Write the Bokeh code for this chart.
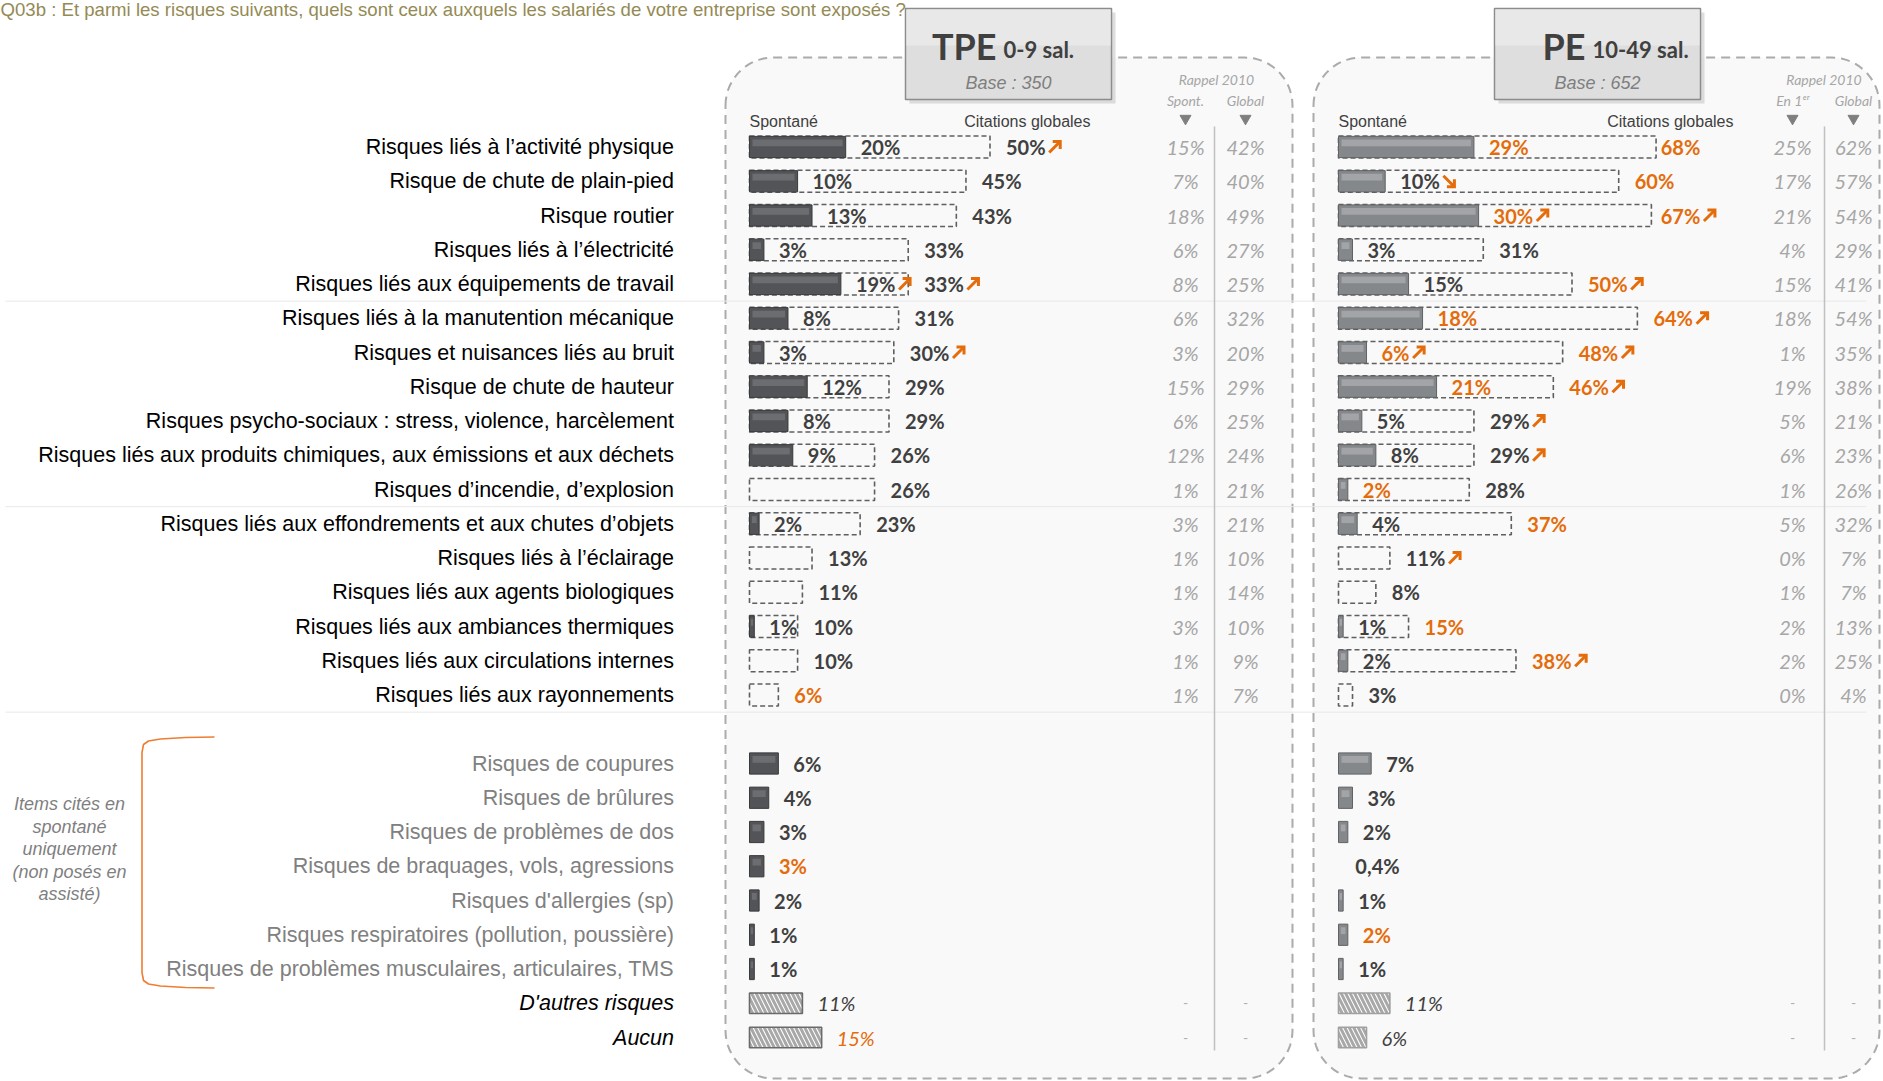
import numpy as np
from bokeh.plotting import figure
from bokeh.models import Range1d, ColumnDataSource
from bokeh.core.properties import value, field
from bokeh.embed import file_html
from bokeh.resources import INLINE

# ---------------- DATA ----------------
TITLE = "Q03b : Et parmi les risques suivants, quels sont ceux auxquels les salariés de votre entreprise sont exposés ?"

main_labels = [
    "Risques liés à l’activité physique",
    "Risque de chute de plain-pied",
    "Risque routier",
    "Risques liés à l’électricité",
    "Risques liés aux équipements de travail",
    "Risques liés à la manutention mécanique",
    "Risques et nuisances liés au bruit",
    "Risque de chute de hauteur",
    "Risques psycho-sociaux : stress, violence, harcèlement",
    "Risques liés aux produits chimiques, aux émissions et aux déchets",
    "Risques d’incendie, d’explosion",
    "Risques liés aux effondrements et aux chutes d’objets",
    "Risques liés à l’éclairage",
    "Risques liés aux agents biologiques",
    "Risques liés aux ambiances thermiques",
    "Risques liés aux circulations internes",
    "Risques liés aux rayonnements",
]
spont_only_labels = [
    "Risques de coupures",
    "Risques de brûlures",
    "Risques de problèmes de dos",
    "Risques de braquages, vols, agressions",
    "Risques d'allergies (sp)",
    "Risques respiratoires (pollution, poussière)",
    "Risques de problèmes musculaires, articulaires, TMS",
]
other_labels = ["D'autres risques", "Aucun"]
side_note = ["Items cités en", "spontané", "uniquement", "(non posés en", "assisté)"]

# TPE 0-9 sal.
tpe_spont = [20, 10, 13, 3, 19, 8, 3, 12, 8, 9, 0, 2, 0, 0, 1, 0, 0]
tpe_global = [50, 45, 43, 33, 33, 31, 30, 29, 29, 26, 26, 23, 13, 11, 10, 10, 6]
tpe_rap_spont = [15, 7, 18, 6, 8, 6, 3, 15, 6, 12, 1, 3, 1, 1, 3, 1, 1]
tpe_rap_global = [42, 40, 49, 27, 25, 32, 20, 29, 25, 24, 21, 21, 10, 14, 10, 9, 7]
tpe_spont_only = [6, 4, 3, 3, 2, 1, 1]
tpe_other = [11, 15]
# significance codes: H = orange text, U = up arrow, D = down arrow
tpe_spont_sig = ["", "", "", "", "U", "", "", "", "", "", "", "", "", "", "", "", ""]
tpe_global_sig = ["U", "", "", "", "U", "", "U", "", "", "", "", "", "", "", "", "", "H"]
tpe_spont_only_sig = ["", "", "", "H", "", "", ""]
tpe_other_sig = ["", "H"]

# PE 10-49 sal.
pe_spont = [29, 10, 30, 3, 15, 18, 6, 21, 5, 8, 2, 4, 0, 0, 1, 2, 0]
pe_global = [68, 60, 67, 31, 50, 64, 48, 46, 29, 29, 28, 37, 11, 8, 15, 38, 3]
pe_rap_first = [25, 17, 21, 4, 15, 18, 1, 19, 5, 6, 1, 5, 0, 1, 2, 2, 0]
pe_rap_global = [62, 57, 54, 29, 41, 54, 35, 38, 21, 23, 26, 32, 7, 7, 13, 25, 4]
pe_spont_only = [7, 3, 2, 0.4, 1, 2, 1]
pe_other = [11, 6]
pe_spont_sig = ["H", "D", "HU", "", "", "H", "HU", "H", "", "", "H", "", "", "", "", "", ""]
pe_global_sig = ["H", "H", "HU", "", "HU", "HU", "HU", "HU", "U", "U", "", "H", "U", "", "H", "HU", ""]
pe_spont_only_sig = ["", "", "", "", "", "H", ""]
pe_other_sig = ["", ""]

# ---------------- LAYOUT ----------------
W_REF, H_REF = 1883, 1081
ROW0, ROWH = 146.5, 34.25
ORANGE = "#E46C0A"
DARK = "#404040"
LAB_PX = 20

main_rows = list(range(17))
so_rows = list(range(18, 25))
oth_rows = [25, 26]

p = figure(width=W_REF, height=H_REF, x_range=Range1d(0, W_REF), y_range=Range1d(H_REF, 0),
           output_backend="svg", toolbar_location=None, min_border=0,
           x_axis_location=None, y_axis_location=None)
p.grid.visible = False
p.outline_line_color = None
p.background_fill_color = "white"
p.border_fill_color = "white"

p.extra_y_ranges = {"rows": Range1d((H_REF - ROW0) / ROWH, (0 - ROW0) / ROWH)}

panels = [
    dict(name="tpe", x0=749.0, scale=4.81, left=725, right=1292,
         spont=tpe_spont, glob=tpe_global, r1=tpe_rap_spont, r2=tpe_rap_global,
         ssig=tpe_spont_sig, gsig=tpe_global_sig, so=tpe_spont_only, sosig=tpe_spont_only_sig,
         oth=tpe_other, othsig=tpe_other_sig,
         fill="#525457", line="#393a3c", hi="#6b6d70", hatch_line="#6a6a6a",
         box=(905, 1111), big="TPE", small="0-9 sal.", base="Base : 350",
         col1=1185, col2=1245, div=1214, h1="Spont.", h2="Global", cg_right=1090, clamp=None),
    dict(name="pe", x0=1338.0, scale=4.67, left=1313, right=1879,
         spont=pe_spont, glob=pe_global, r1=pe_rap_first, r2=pe_rap_global,
         ssig=pe_spont_sig, gsig=pe_global_sig, so=pe_spont_only, sosig=pe_spont_only_sig,
         oth=pe_other, othsig=pe_other_sig,
         fill="#85888b", line="#606265", hi="#a2a4a7", hatch_line="#a0a0a0",
         box=(1494, 1700), big="PE", small="10-49 sal.", base="Base : 652",
         col1=1792, col2=1853, div=1824, h1="En 1ᵉʳ", h2="Global", cg_right=1733, clamp=69.0),
]
p.extra_x_ranges = {c["name"]: Range1d(-c["x0"] / c["scale"], (W_REF - c["x0"]) / c["scale"]) for c in panels}


def rounded(l, r, t, b, rad, n=16):
    xs, ys = [], []
    for cx, cy, a0 in [(l + rad, t + rad, np.pi), (r - rad, t + rad, 1.5 * np.pi),
                       (r - rad, b - rad, 0.0), (l + rad, b - rad, 0.5 * np.pi)]:
        a = np.linspace(a0, a0 + 0.5 * np.pi, n)
        xs += list(cx + rad * np.cos(a))
        ys += list(cy + rad * np.sin(a))
    xs.append(xs[0]); ys.append(ys[0])
    return xs, ys


def fmt(v):
    return ("%g" % v).replace(".", ",") + "%"


WID = {ch: 0.58 for ch in "0123456789"}
WID.update({"%": 0.80, ",": 0.25})


def text_w(s, size):
    return sum(WID.get(ch, 0.55) for ch in s) * size


# panel backgrounds + dashed borders
for c in panels:
    xs, ys = rounded(c["left"], c["right"], 57, 1078, 48)
    p.patch(xs, ys, fill_color="#f9f9f9", line_color="#ababab", line_width=2, line_dash="9 6")

# separators
for r in [4.5, 10.5, 16.5]:
    p.segment(x0=[5], x1=[1866], y0=[r], y1=[r], y_range_name="rows", line_color="#e8e8e8", line_width=1)

# title
p.text(x=[0], y=[9], text=[TITLE], text_font=value("Liberation Sans"), text_font_size=value("18.6px"),
       text_color="#948A54", text_align="left", text_baseline="middle")

# row labels
LBL = "21.5px"
p.text(x=[673.5] * 17, y=main_rows, text=main_labels, y_range_name="rows",
       text_font=value("Liberation Sans"), text_font_size=value(LBL), text_color="black",
       text_align="right", text_baseline="middle")
p.text(x=[673.5] * 7, y=so_rows, text=spont_only_labels, y_range_name="rows",
       text_font=value("Liberation Sans"), text_font_size=value(LBL), text_color="#808080",
       text_align="right", text_baseline="middle")
p.text(x=[673.5] * 2, y=oth_rows, text=other_labels, y_range_name="rows",
       text_font=value("Liberation Sans"), text_font_size=value(LBL), text_color="black",
       text_font_style="italic", text_align="right", text_baseline="middle")

# bracket + side note
bx = [214, 185, 160, 148, 143, 141.5, 141.5, 143, 148, 160, 185, 214]
by = [736.5, 737, 738.5, 740.5, 744, 752, 972, 980, 983.5, 985.5, 987, 987.5]
p.line(bx, by, line_color="#EE7D31", line_width=1.6)
p.text(x=[69] * 5, y=[803, 826, 848, 871, 893], text=side_note,
       text_font=value("Liberation Sans"), text_font_size=value("18px"), text_font_style="italic",
       text_color="#7f7f7f", text_align="center", text_baseline="middle")

for c in panels:
    xr = c["name"]
    sc = c["scale"]
    # header box
    bl, br = c["box"]
    p.quad(left=[bl + 4], right=[br + 4], top=[12], bottom=[103], fill_color="#bdbdbd", fill_alpha=0.5, line_color=None)
    p.quad(left=[bl], right=[br], top=[8], bottom=[99], fill_color="#dedede", line_color="#8c8c8c", line_width=1.5)
    p.quad(left=[bl + 1], right=[br - 1], top=[9], bottom=[45], fill_color="#e8e8e8", line_color=None)
    mid = (bl + br) / 2
    p.text(x=[mid - 12], y=[45], text=[c["big"]], text_font=value("Lato"), text_font_size=value("36px"),
           text_font_style="bold", text_color=DARK, text_align="right", text_baseline="middle")
    p.text(x=[mid - 5], y=[49], text=[c["small"]], text_font=value("Lato"), text_font_size=value("22px"),
           text_font_style="bold", text_color=DARK, text_align="left", text_baseline="middle")
    p.text(x=[mid], y=[82], text=[c["base"]], text_font=value("Liberation Sans"), text_font_size=value("18px"),
           text_font_style="italic", text_color="#7f7f7f", text_align="center", text_baseline="middle")

    # column headers
    p.text(x=[c["x0"]], y=[121], text=["Spontané"], text_font=value("Liberation Sans"), text_font_size=value("16px"),
           text_color=DARK, text_align="left", text_baseline="middle")
    p.text(x=[c["cg_right"]], y=[121], text=["Citations globales"], text_font=value("Liberation Sans"),
           text_font_size=value("16px"), text_color=DARK, text_align="right", text_baseline="middle")
    p.text(x=[(c["col1"] + c["col2"]) / 2 + 1], y=[79], text=["Rappel 2010"], text_font=value("Lato"),
           text_font_size=value("14px"), text_font_style="italic", text_color="#a6a6a6",
           text_align="center", text_baseline="middle")
    p.text(x=[c["col1"], c["col2"]], y=[100, 100], text=[c["h1"], c["h2"]], text_font=value("Lato"),
           text_font_size=value("14px"), text_font_style="italic", text_color="#a6a6a6",
           text_align="center", text_baseline="middle")
    p.scatter(x=[c["col1"], c["col2"]], y=[118, 118], marker="inverted_triangle", size=11,
              fill_color="#7f7f7f", line_color="#7f7f7f")
    p.segment(x0=[c["div"]], x1=[c["div"]], y0=[126], y1=[1050], line_color="#c0c0c0", line_width=1.5)

    # dashed global boxes
    p.hbar(y=main_rows, left=0, right=c["glob"], height=0.64, fill_color=None, line_color="#5f5f5f",
           line_width=1.6, line_dash="5 3", x_range_name=xr, y_range_name="rows")

    # spontaneous bars
    all_rows = main_rows + so_rows
    all_vals = c["spont"] + c["so"]
    ys = [r for r, v in zip(all_rows, all_vals) if v >= 0.5]
    vs = [v for v in all_vals if v >= 0.5]
    p.hbar(y=ys, left=0, right=vs, height=0.62, fill_color=c["fill"], line_color=c["line"], line_width=1,
           x_range_name=xr, y_range_name="rows")
    ins = [min(3.0 / sc, v * 0.25) for v in vs]
    p.hbar(y=[y - 0.12 for y in ys], left=ins, right=[v - i for v, i in zip(vs, ins)], height=0.2,
           fill_color=c["hi"], line_color=None, x_range_name=xr, y_range_name="rows")

    # hatched bars
    p.hbar(y=oth_rows, left=0, right=c["oth"], height=0.6, fill_color="white", line_color=c["hatch_line"],
           line_width=1.6, hatch_pattern="\\", hatch_color="#a8a8a8", hatch_weight=3, hatch_scale=9,
           x_range_name=xr, y_range_name="rows")

    # labels + arrows
    lab = dict(x=[], y=[], t=[], c=[], xo=[])
    arr = []  # (x_data_of_text, extra_px_start, row, up?)
    sigs = c["ssig"] + c["sosig"]
    for r, v, s in zip(all_rows, all_vals, sigs):
        if v <= 0:
            continue
        t = fmt(v)
        lab["x"].append(v); lab["y"].append(r); lab["t"].append(t)
        lab["c"].append(ORANGE if "H" in s else DARK); lab["xo"].append(15)
        if "U" in s or "D" in s:
            arr.append((v, 15 + text_w(t, LAB_PX) + 4, r, "U" in s))
    for r, g, s in zip(main_rows, c["glob"], c["gsig"]):
        t = fmt(g)
        gx = g + 16.0 / sc
        if c["clamp"] is not None:
            gx = min(gx, c["clamp"])
        lab["x"].append(gx); lab["y"].append(r); lab["t"].append(t)
        lab["c"].append(ORANGE if "H" in s else DARK); lab["xo"].append(0)
        if "U" in s or "D" in s:
            arr.append((gx, text_w(t, LAB_PX) + 4, r, "U" in s))
    p.text(x="x", y="y", text="t", source=ColumnDataSource(lab), text_color=field("c"), x_offset=field("xo"),
           text_font=value("Lato"), text_font_size=value("%dpx" % LAB_PX), text_font_style="bold",
           text_align="left", text_baseline="middle", x_range_name=xr, y_range_name="rows")

    axs, ays = [], []
    for xd, off, r, up in arr:
        x0 = xd + off / sc
        x1 = xd + (off + 11) / sc
        dy = 5.5 / ROWH
        hx = 7.5 / sc
        hy = 7.5 / ROWH
        if up:
            axs.append([x0, x1]); ays.append([r + dy, r - dy])
            axs.append([x1 - hx, x1, x1]); ays.append([r - dy, r - dy, r - dy + hy])
        else:
            axs.append([x0, x1]); ays.append([r - dy, r + dy])
            axs.append([x1 - hx, x1, x1]); ays.append([r + dy, r + dy, r + dy - hy])
    p.multi_line(xs=axs, ys=ays, line_color=ORANGE, line_width=3, line_join="miter",
                 x_range_name=xr, y_range_name="rows")

    oc = [ORANGE if "H" in s else DARK for s in c["othsig"]]
    p.text(x=c["oth"], y=oth_rows, text=[fmt(v) for v in c["oth"]], text_color=oc, x_offset=15,
           text_font=value("Lato"), text_font_size=value("%dpx" % LAB_PX), text_font_style="italic",
           text_align="left", text_baseline="middle", x_range_name=xr, y_range_name="rows")

    # rappel 2010 columns
    p.text(x=[c["col1"]] * 17 + [c["col2"]] * 17, y=main_rows + main_rows,
           text=[fmt(v) for v in c["r1"]] + [fmt(v) for v in c["r2"]], y_range_name="rows",
           text_font=value("Lato"), text_font_size=value("20px"), text_font_style="italic",
           text_color="#a6a6a6", text_align="center", text_baseline="middle")
    p.text(x=[c["col1"], c["col1"], c["col2"], c["col2"]], y=oth_rows + oth_rows, text=["-"] * 4,
           y_range_name="rows", text_font=value("Lato"), text_font_size=value("14px"),
           text_color="#b0b0b0", text_align="center", text_baseline="middle")

open("out.html", "w").write(file_html(p, INLINE))
